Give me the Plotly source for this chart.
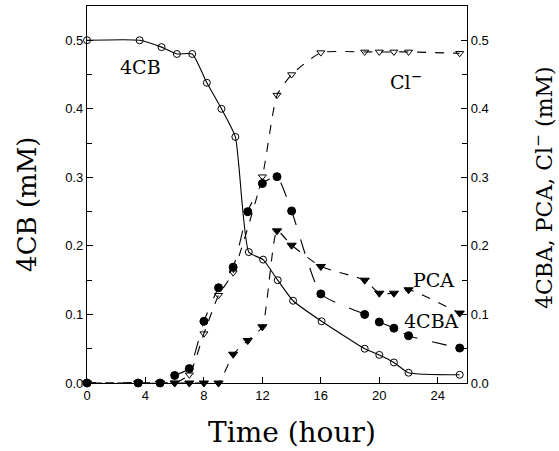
import plotly.graph_objects as go

# Data (time in hours, concentrations in mM)
t_4cb = [0, 3.6, 5.1, 6.15, 7.2, 8.2, 9.2, 10.15, 11.07, 12.05, 13.05, 14.1, 16.05, 19.0, 20.0, 21.0, 22.0, 25.5]
c_4cb = [0.500, 0.500, 0.490, 0.480, 0.480, 0.438, 0.400, 0.359, 0.191, 0.180, 0.150, 0.120, 0.090, 0.050, 0.041, 0.030, 0.015, 0.012]

t_4cba = [0, 3.5, 5.0, 6.0, 7.0, 8.0, 9.0, 10.0, 11.0, 12.0, 13.0, 14.0, 16.0, 19.0, 20.0, 21.0, 22.0, 25.5]
c_4cba = [0.0, 0.0, 0.0, 0.011, 0.021, 0.090, 0.139, 0.169, 0.250, 0.291, 0.301, 0.251, 0.130, 0.100, 0.089, 0.080, 0.069, 0.051]

t_pca = [0, 3.5, 5.0, 6.0, 7.0, 8.0, 9.0, 10.0, 11.0, 12.0, 13.0, 14.0, 16.0, 19.0, 20.0, 21.0, 22.0, 25.5]
c_pca = [0.0, 0.0, 0.0, 0.0, 0.0, 0.0, 0.0, 0.042, 0.062, 0.082, 0.222, 0.201, 0.170, 0.150, 0.131, 0.131, 0.136, 0.102]

t_cl = [0, 3.5, 5.0, 6.0, 7.0, 8.0, 9.0, 10.0, 12.0, 13.0, 14.0, 16.0, 19.0, 20.0, 21.0, 22.0, 25.5]
c_cl = [0.0, 0.0, 0.0, 0.0, 0.012, 0.072, 0.128, 0.161, 0.301, 0.420, 0.450, 0.482, 0.483, 0.483, 0.483, 0.483, 0.481]

x_ticks = [0, 4, 8, 12, 16, 20, 24]

SERIF = "DejaVu Serif"
SANS = "Liberation Sans"

fig = go.Figure()

def add(t, c, symbol, dash, yaxis, msize):
    fig.add_trace(go.Scatter(
        x=t, y=c, mode="lines+markers", yaxis=yaxis, cliponaxis=False,
        line=dict(color="black", width=1.1, dash=dash, shape="spline", smoothing=0.5),
        marker=dict(symbol=symbol, size=msize, color="black",
                    line=dict(color="black", width=1)),
        showlegend=False))

add(t_4cb, c_4cb, "circle-open", "solid", "y", 7)
add(t_4cba, c_4cba, "circle", "longdash", "y2", 8)
add(t_pca, c_pca, "triangle-down", "dash", "y2", 8)
add(t_cl, c_cl, "triangle-down-open", "dash", "y2", 7)

yrange = [0, 0.55]
fig.update_layout(
    width=559, height=451,
    margin=dict(l=87, r=92, t=6, b=68),
    paper_bgcolor="white", plot_bgcolor="white",
    xaxis=dict(range=[0, 26], tickvals=x_ticks, ticks="inside", ticklen=6,
               tickcolor="black", showline=True, linecolor="black", linewidth=1.2,
               mirror=True, showgrid=False, zeroline=False,
               tickfont=dict(family=SANS, size=13, color="black")),
    yaxis=dict(range=yrange, dtick=0.1, tickformat=".1f", ticks="inside", ticklen=6,
               tickcolor="black", showline=True, linecolor="black", linewidth=1.2,
               showgrid=False, zeroline=False,
               minor=dict(dtick=0.05, ticks="inside", ticklen=5, tickcolor="black"),
               tickfont=dict(family=SANS, size=13, color="black")),
    yaxis2=dict(range=yrange, overlaying="y", side="right", dtick=0.1, tickformat=".1f",
                ticks="inside", ticklen=6, tickcolor="black", showline=True,
                linecolor="black", linewidth=1.2, showgrid=False, zeroline=False,
                minor=dict(dtick=0.05, ticks="inside", ticklen=5, tickcolor="black"),
                tickfont=dict(family=SANS, size=13, color="black")),
)

ann_font = dict(family=SERIF, size=19, color="black")
fig.add_annotation(x=3.64, y=0.461, text="4CB", showarrow=False, font=ann_font,
                   xanchor="center", yanchor="middle")
fig.add_annotation(x=21.8, y=0.44, text="Cl<sup>\u2212</sup>", showarrow=False, font=ann_font,
                   xanchor="center", yanchor="middle")
fig.add_annotation(x=23.7, y=0.150, text="PCA", showarrow=False, font=ann_font,
                   xanchor="center", yanchor="middle")
fig.add_annotation(x=23.6, y=0.090, text="4CBA", showarrow=False, font=ann_font,
                   xanchor="center", yanchor="middle")

# Axis titles
fig.add_annotation(xref="paper", yref="paper", x=-0.158, y=0.475, text="4CB (mM)",
                   textangle=-90, showarrow=False, xanchor="center", yanchor="middle",
                   font=dict(family=SERIF, size=26, color="black"))
fig.add_annotation(xref="paper", yref="paper", x=1.2, y=0.517,
                   text="4CBA, PCA, Cl<sup>\u2212</sup> (mM)",
                   textangle=-90, showarrow=False, xanchor="center", yanchor="middle",
                   font=dict(family=SERIF, size=22, color="black"))
fig.add_annotation(xref="paper", yref="paper", x=0.54, y=-0.13, text="Time (hour)",
                   showarrow=False, xanchor="center", yanchor="middle",
                   font=dict(family=SERIF, size=28, color="black"))

fig.write_html("out.html", config={"displayModeBar": False},
               post_script="document.body.style.margin='0';")
